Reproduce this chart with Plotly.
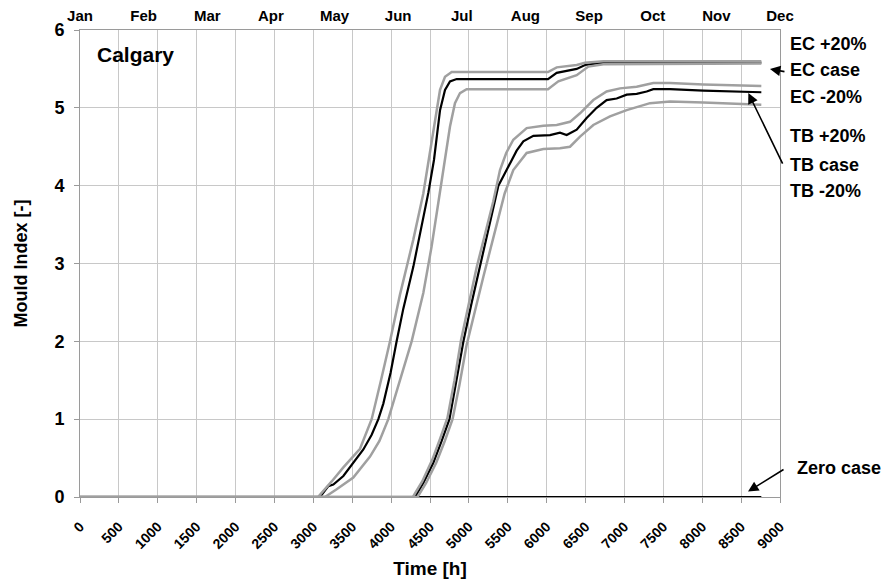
import plotly.graph_objects as go

# ---- data -------------------------------------------------------------
months = ["Jan", "Feb", "Mar", "Apr", "May", "Jun",
          "Jul", "Aug", "Sep", "Oct", "Nov", "Dec"]
x_ticks = list(range(0, 9001, 500))

ec_case_h = [0, 3086, 3193, 3257, 3386, 3514, 3643, 3750, 3836, 3900, 3994,
             4071, 4157, 4286, 4393, 4479, 4551, 4594, 4629, 4693, 4757, 4843,
             6017, 6129, 6300, 6386, 6493, 6729, 7071, 8760]
ec_case_mi = [0, 0, 0.14, 0.16, 0.27, 0.44, 0.61, 0.8, 1.0, 1.2, 1.6,
              2.0, 2.42, 2.96, 3.48, 3.91, 4.33, 4.68, 4.97, 5.23, 5.34, 5.37,
              5.37, 5.45, 5.48, 5.50, 5.55, 5.58, 5.59, 5.58]

ec_plus_h = [0, 3060, 3236, 3386, 3600, 3750, 3870, 3986, 4114, 4286, 4414,
             4521, 4586, 4629, 4693, 4779, 6017, 6129, 6386, 6493, 6729, 8760]
ec_plus_mi = [0, 0, 0.2, 0.38, 0.62, 1.0, 1.5, 2.0, 2.6, 3.31, 3.9,
              4.55, 4.97, 5.23, 5.4, 5.46, 5.46, 5.52, 5.55, 5.58, 5.60, 5.60]

ec_minus_h = [0, 3150, 3300, 3514, 3729, 3850, 3964, 4114, 4264, 4414, 4521,
              4607, 4693, 4757, 4821, 4886, 4971, 6017, 6150, 6386, 6536, 6729, 8760]
ec_minus_mi = [0, 0, 0.1, 0.25, 0.52, 0.72, 1.0, 1.5, 2.0, 2.62, 3.22,
               3.78, 4.33, 4.76, 5.06, 5.19, 5.24, 5.24, 5.34, 5.42, 5.53, 5.56, 5.57]

tb_case_h = [0, 4307, 4414, 4543, 4650, 4750, 4840, 4930, 5030, 5143, 5250, 5379,
             5443, 5529, 5614, 5700, 5829, 6043, 6171, 6257, 6386, 6514, 6643,
             6771, 6900, 7029, 7157, 7286, 7371, 7586, 8014, 8760]
tb_case_mi = [0, 0, 0.18, 0.44, 0.72, 1.0, 1.5, 2.0, 2.47, 2.97, 3.45, 4.0,
              4.12, 4.29, 4.45, 4.57, 4.64, 4.65, 4.68, 4.65, 4.72, 4.87, 5.0,
              5.10, 5.12, 5.17, 5.18, 5.21, 5.24, 5.24, 5.22, 5.20]

tb_plus_h = [0, 4280, 4400, 4530, 4630, 4725, 4815, 4900, 5100, 5314, 5400, 5480,
             5571, 5743, 5957, 6129, 6300, 6429, 6600, 6771, 6943, 7157, 7371,
             7586, 8014, 8760]
tb_plus_mi = [0, 0, 0.2, 0.48, 0.75, 1.02, 1.5, 2.02, 2.95, 3.8, 4.2, 4.42,
              4.59, 4.74, 4.77, 4.78, 4.82, 4.93, 5.10, 5.21, 5.25, 5.27, 5.32,
              5.32, 5.30, 5.28]

tb_minus_h = [0, 4340, 4450, 4580, 4690, 4790, 4880, 4970, 5186, 5379, 5460, 5571,
              5743, 5957, 6171, 6300, 6429, 6600, 6814, 7029, 7329, 7586, 8014, 8760]
tb_minus_mi = [0, 0, 0.18, 0.44, 0.72, 1.0, 1.45, 1.95, 2.83, 3.6, 3.9, 4.2,
               4.42, 4.47, 4.48, 4.50, 4.63, 4.78, 4.89, 4.97, 5.06, 5.08, 5.07, 5.04]

zero_h = [0, 8760]
zero_mi = [0, 0]

# ---- styling ----------------------------------------------------------
FONT = "Liberation Sans, Arial, sans-serif"
BLACK = "#000000"
GREY = "#a0a0a0"
GRID = "#c8c8c8"
AXIS = "#9a9a9a"


def bold(size):
    return dict(family=FONT, size=size, color="black", weight="bold")


fig = go.Figure()

# black reference cases underneath, the +/-20 % variants on top
for xs, ys in [(zero_h, zero_mi), (ec_case_h, ec_case_mi), (tb_case_h, tb_case_mi)]:
    fig.add_trace(go.Scatter(x=xs, y=ys, mode="lines",
                             line=dict(color=BLACK, width=2.2),
                             showlegend=False, hoverinfo="skip"))
for xs, ys in [(ec_plus_h, ec_plus_mi), (ec_minus_h, ec_minus_mi),
               (tb_plus_h, tb_plus_mi), (tb_minus_h, tb_minus_mi)]:
    fig.add_trace(go.Scatter(x=xs, y=ys, mode="lines",
                             line=dict(color=GREY, width=2.5),
                             showlegend=False, hoverinfo="skip"))

# month axis along the top
fig.add_trace(go.Scatter(x=list(range(len(months))), y=[None] * len(months),
                         xaxis="x2", mode="lines", showlegend=False,
                         hoverinfo="skip"))

fig.update_layout(
    width=886, height=586,
    margin=dict(l=80, r=106, t=30, b=89),
    paper_bgcolor="white", plot_bgcolor="white",
    font=dict(family=FONT, color="black"),
    xaxis=dict(range=[0, 9000], tickvals=x_ticks, tickangle=-45,
               tickfont=bold(14), ticks="outside", ticklen=5, tickcolor=AXIS,
               ticklabelstandoff=10,
               showgrid=True, gridcolor=GRID, gridwidth=1,
               showline=True, linecolor=AXIS, linewidth=1, mirror=True,
               zeroline=False, automargin=False,
               title=dict(text="Time [h]", font=bold(19), standoff=10)),
    yaxis=dict(range=[0, 6], dtick=1, tickfont=bold(18), ticks="outside",
               ticklen=5, tickcolor=AXIS, ticklabelstandoff=6,
               showgrid=True, gridcolor=GRID,
               gridwidth=1, showline=True, linecolor=AXIS, linewidth=1,
               mirror=True, zeroline=False, automargin=False,
               title=dict(text="Mould Index [-]", font=bold(18), standoff=22)),
    xaxis2=dict(overlaying="x", side="top", range=[0, len(months) - 1],
                tickvals=list(range(len(months))), ticktext=months,
                tickfont=bold(15), showgrid=False, showline=False,
                zeroline=False, ticks="", ticklabelstandoff=5,
                automargin=False),
)

# site label with white backing over the grid
fig.add_shape(type="rect", xref="paper", yref="y", x0=0.007, x1=0.179,
              y0=5.46, y1=5.87, fillcolor="white", line=dict(width=0),
              layer="between")
fig.add_annotation(text="Calgary", xref="paper", yref="y", x=0.0214, y=5.68,
                   xanchor="left", yanchor="middle", showarrow=False,
                   font=bold(21))

# series labels on the right
labels = [("EC +20%", 5.82), ("EC case", 5.49), ("EC -20%", 5.14),
          ("TB +20%", 4.64), ("TB case", 4.27), ("TB -20%", 3.93)]
for txt, yy in labels:
    fig.add_annotation(text=txt, xref="paper", yref="y", x=1.0114, y=yy,
                       xanchor="left", yanchor="middle", showarrow=False,
                       font=bold(18))
fig.add_annotation(text="Zero case", xref="paper", yref="y", x=1.0214, y=0.37,
                   xanchor="left", yanchor="middle", showarrow=False,
                   font=bold(18))

# pointer arrows
for tip_x, tip_y, ax, ay in [(8871, 5.50, 16, 3), (8593, 5.19, 35, 72),
                             (8589, 0.07, 37, -23)]:
    fig.add_annotation(x=tip_x, y=tip_y, xref="x", yref="y", text="",
                       showarrow=True, ax=ax, ay=ay, arrowhead=2,
                       arrowsize=1.3, arrowwidth=1.6, arrowcolor="black",
                       standoff=0)

fig.write_html("out.html")
